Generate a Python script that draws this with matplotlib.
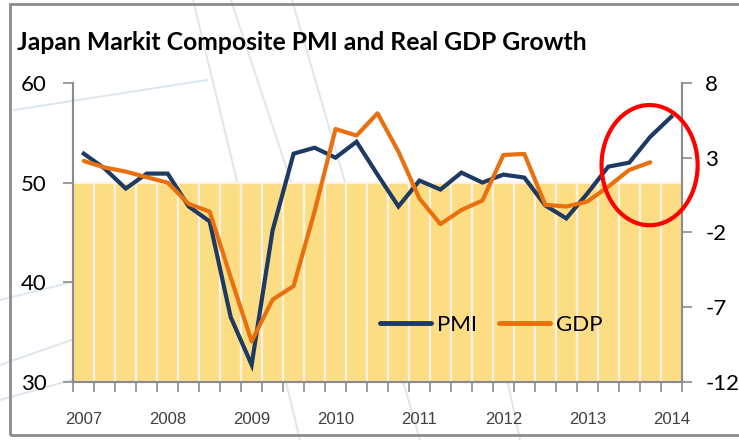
import numpy as np
import matplotlib
matplotlib.use("Agg")
import matplotlib.pyplot as plt
from matplotlib.patches import Ellipse, Rectangle
from matplotlib.lines import Line2D

# quarterly values, 2007Q1 .. 2014Q1
pmi = [52.9, 51.4, 49.4, 50.9, 50.9, 47.6, 46.1, 36.5, 31.7, 45.2,
       52.9, 53.5, 52.5, 54.1, 50.8, 47.6, 50.2, 49.3, 51.0, 50.0,
       50.8, 50.5, 47.7, 46.4, 48.9, 51.6, 52.0, 54.6, 56.6]
gdp = [2.78, 2.34, 2.07, 1.69, 1.33, -0.1, -0.61, -5.0, -9.3, -6.5,
       -5.6, -0.6, 4.92, 4.48, 5.97, 3.4, 0.26, -1.45, -0.5, 0.13,
       3.18, 3.25, -0.16, -0.27, 0.06, 1.06, 2.18, 2.69]
years = ['2007', '2008', '2009', '2010', '2011', '2012', '2013', '2014']
left_ticks = [30, 40, 50, 60]
right_ticks = [-12, -7, -2, 3, 8]

navy = '#1d3a62'
orange = '#e8700f'
yellow = '#fddd84'

fig = plt.figure(figsize=(7.39, 4.40), dpi=100)
W, H = 739, 440

# faint decorative background strokes
for (x0, y0, x1, y1) in [(193, 0, 300, 440), (231, 0, 330, 300), (292, 0, 420, 440),
                         (14, 110, 207, 80), (0, 365, 300, 260), (0, 300, 200, 250),
                         (0, 400, 250, 330), (480, 250, 520, 440)]:
    fig.add_artist(Line2D([x0 / W, x1 / W], [1 - y0 / H, 1 - y1 / H],
                          color='#cfdbe8', lw=1.4, alpha=0.7, zorder=0))

# outer frame
fig.add_artist(Rectangle((9.5 / W, 1 - 435 / H), 1.0, (435 - 4) / H, fill=False,
                         edgecolor='#8c8c8c', lw=2, zorder=5))

ax = fig.add_axes([73.3 / W, 1 - 381.7 / H, (681.7 - 73.3) / W, (381.7 - 83) / H])
ax.patch.set_alpha(0)
ax2 = ax.twinx()

n = len(pmi)
x = np.arange(n)
ax.bar(x, [20] * n, bottom=30, width=1.0, color=yellow, edgecolor='#fff1e4', lw=1.6, zorder=1)
ax.plot(x, pmi, color=navy, lw=3.0, solid_joinstyle='miter', zorder=3)
ax2.plot(x[:len(gdp)], gdp, color=orange, lw=3.0, solid_capstyle='round', zorder=3)

ax.set_xlim(-0.5, n - 0.5)
ax.set_ylim(30, 60)
ax2.set_ylim(-12, 8)

ax.set_yticks(left_ticks)
ax.set_yticklabels([str(t) for t in left_ticks], fontfamily='Lato', fontsize=16)
ax2.set_yticks(right_ticks)
ax2.set_yticklabels([str(t) for t in right_ticks], fontfamily='Lato', fontsize=16)

ax.set_xticks(np.arange(-0.5, n, 1.0))
ax.set_xticklabels([])
ax.set_xticks(np.arange(0, n, 4), minor=True)
ax.set_xticklabels(years, minor=True, fontfamily='Liberation Sans', fontsize=12, color='#404040')
ax.tick_params(axis='x', which='major', length=7, color='#8c8c8c', width=1.2)
ax.tick_params(axis='x', which='minor', length=0, pad=22)
ax.tick_params(axis='y', length=7, color='#8c8c8c', width=1.2, pad=12)
ax2.tick_params(axis='y', length=7, color='#8c8c8c', width=1.2, pad=10)

for a in (ax, ax2):
    a.spines['top'].set_visible(False)
    for s in ('left', 'right', 'bottom'):
        a.spines[s].set_color('#8c8c8c')
        a.spines[s].set_linewidth(1.5)

handles = [Line2D([], [], color=navy, lw=3.5, solid_capstyle='round'),
           Line2D([], [], color=orange, lw=3.5, solid_capstyle='round')]
leg = ax.legend(handles, ['PMI', 'GDP'], ncol=2, frameon=False, loc='center',
                bbox_to_anchor=(0.687, 0.19), handlelength=2.3, handletextpad=0.25,
                columnspacing=1.0, prop={'family': 'Lato', 'size': 16})

fig.text(17 / W, 1 - 42 / H, 'Japan Markit Composite PMI and Real GDP Growth',
         fontfamily='Lato', fontweight='bold', fontsize=17.8, va='center', ha='left')

ax2.add_patch(Ellipse((26.97, 2.5), 4.58, 8.05, fill=False, edgecolor='#ff0000',
                      lw=3, clip_on=False, zorder=10))

fig.savefig('out.png', dpi=100)
